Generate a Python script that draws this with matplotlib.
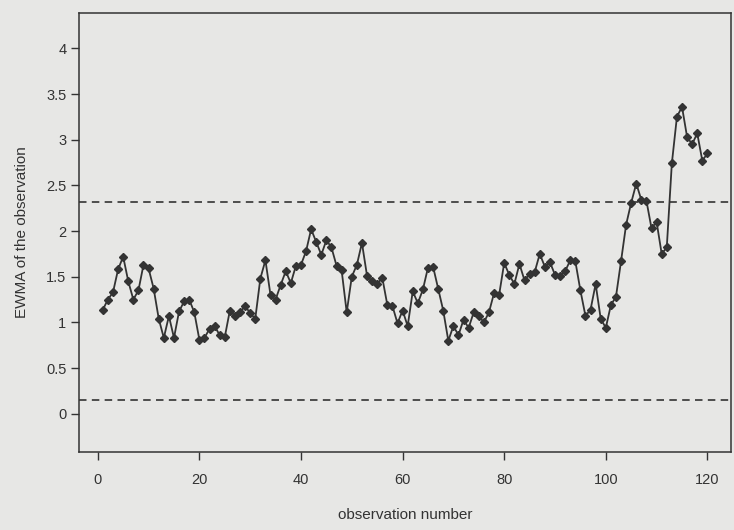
import numpy as np
import matplotlib
matplotlib.use("Agg")
import matplotlib.pyplot as plt
from matplotlib.ticker import FuncFormatter

obs = np.arange(1, 121)
ewma = [
    1.14, 1.25, 1.33, 1.58, 1.72, 1.45, 1.25, 1.35, 1.63, 1.59,
    1.37, 1.04, 0.83, 1.07, 0.83, 1.12, 1.23, 1.25, 1.11, 0.81,
    0.83, 0.93, 0.96, 0.86, 0.84, 1.13, 1.07, 1.11, 1.18, 1.10,
    1.04, 1.48, 1.68, 1.30, 1.25, 1.41, 1.56, 1.43, 1.62, 1.63,
    1.78, 2.02, 1.88, 1.74, 1.90, 1.82, 1.62, 1.57, 1.11, 1.50,
    1.63, 1.87, 1.51, 1.45, 1.42, 1.49, 1.19, 1.18, 0.99, 1.13,
    0.96, 1.34, 1.21, 1.36, 1.60, 1.61, 1.37, 1.13, 0.80, 0.96,
    0.86, 1.03, 0.94, 1.11, 1.07, 1.00, 1.11, 1.32, 1.30, 1.65,
    1.52, 1.42, 1.64, 1.46, 1.53, 1.55, 1.75, 1.61, 1.66, 1.52,
    1.51, 1.56, 1.68, 1.67, 1.35, 1.07, 1.14, 1.42, 1.04, 0.94,
    1.19, 1.28, 1.67, 2.07, 2.31, 2.52, 2.34, 2.33, 2.03, 2.10,
    1.75, 1.82, 2.74, 3.25, 3.36, 3.03, 2.95, 3.07, 2.77, 2.85,
]
upper_limit = 2.32
lower_limit = 0.15

x_ticks = [0, 20, 40, 60, 80, 100, 120]
y_ticks = [0, 0.5, 1, 1.5, 2, 2.5, 3, 3.5, 4]

paper = '#e7e7e5'
ink = '#333333'

plt.rcParams['font.family'] = ['Liberation Sans', 'DejaVu Sans']

fig = plt.figure(figsize=(7.34, 5.30), dpi=100, facecolor=paper)
ax = fig.add_axes([0.1076, 0.147, 0.888, 0.829], facecolor=paper)

ax.plot(obs, ewma, color=ink, linewidth=1.3, marker='D', markersize=4.2,
        markerfacecolor=ink, markeredgecolor=ink)
ax.axhline(upper_limit, color=ink, linewidth=1.2, dashes=(4.5, 3.2))
ax.axhline(lower_limit, color=ink, linewidth=1.2, dashes=(4.5, 3.2))

ax.set_xlim(-3.7, 124.6)
ax.set_ylim(-0.42, 4.39)
ax.set_xticks(x_ticks)
ax.set_yticks(y_ticks)
ax.yaxis.set_major_formatter(FuncFormatter(lambda v, p: f"{v:g}"))

for s in ax.spines.values():
    s.set_color(ink)
    s.set_linewidth(1.1)
ax.tick_params(axis='both', colors=ink, labelcolor=ink, labelsize=10.5,
               length=6, width=1.0, direction='out')
ax.tick_params(axis='x', pad=9)
ax.tick_params(axis='y', pad=3)

ax.set_xlabel("observation number", fontsize=11, color=ink, labelpad=15)
ax.set_ylabel("EWMA of the observation", fontsize=11, color=ink, labelpad=12)

fig.savefig("out.png", dpi=100, facecolor=paper)
